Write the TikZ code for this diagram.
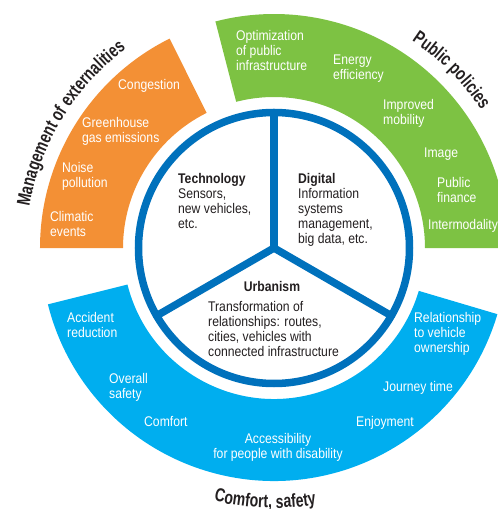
\documentclass[tikz,border=0pt]{standalone}
\usepackage{fontspec}
\setmainfont{Liberation Sans}[FakeStretch=0.87]
\newfontfamily\titlefont{Liberation Sans}[FakeStretch=0.75]
\usetikzlibrary{decorations.text}
\definecolor{orangeC}{HTML}{F39035}
\definecolor{greenC}{HTML}{7DC243}
\definecolor{cyanC}{HTML}{00AEEF}
\definecolor{ringC}{HTML}{0071BC}
\definecolor{darkC}{HTML}{231F20}
\begin{document}
\begin{tikzpicture}[x=1pt,y=1pt,
  seglabel/.style={text=white, font=\fontsize{14}{15}\selectfont, inner sep=0pt, align=left, anchor=west},
  innertext/.style={text=darkC, font=\fontsize{14}{15}\selectfont, inner sep=0pt, align=left},
  headtext/.style={text=darkC, font=\fontsize{14}{15}\selectfont\bfseries, inner sep=0pt},
  spoke/.style={draw=ringC, line width=7.5pt, line cap=round},
  titlepath/.style={decorate, decoration={text along path, text align=center, text color=darkC, text={|\titlefont\fontsize{18.8}{19}\selectfont\bfseries|#1}}}
]
\clip (-274,-261) rectangle (224,248);
% outer segments
\fill[orangeC] (116.5:151pt) arc[start angle=116.5, end angle=180, radius=151pt] -- (180:234pt) arc[start angle=180, end angle=116.5, radius=234pt] -- cycle;
\fill[greenC] (0:151pt) arc[start angle=0, end angle=104.5, radius=151pt] -- (104.5:234pt) arc[start angle=104.5, end angle=0, radius=234pt] -- cycle;
\fill[cyanC] (194:151pt) arc[start angle=194, end angle=343.5, radius=151pt] -- (343.5:233pt) arc[start angle=343.5, end angle=194, radius=233pt] -- cycle;
% inner circle
\draw[ringC, line width=7.5pt, fill=white] (0,0) circle[radius=135.5pt];
\coordinate (c) at (0,0);
\coordinate (s1) at (90:135.5pt);
\coordinate (s2) at (210:135.5pt);
\coordinate (s3) at (330:135.5pt);
\draw[spoke] (c) -- (s1);
\draw[spoke] (c) -- (s2);
\draw[spoke] (c) -- (s3);
% curved titles
\path[titlepath={Management of externalities}] (176:248pt) arc[start angle=176, end angle=121, radius=248pt];
\path[titlepath={Public policies}] (60:249pt) arc[start angle=60, end angle=30, radius=249pt];
\path[titlepath={Comfort{,} safety}] (240:260pt) arc[start angle=240, end angle=296, radius=260pt];
% orange labels
\node[seglabel] (o1) at (-156,162) {Congestion};
\node[seglabel] (o2) at (-192,117) {Greenhouse\\gas emissions};
\node[seglabel] (o3) at (-212,72) {Noise\\pollution};
\node[seglabel] (o4) at (-224,24) {Climatic\\events};
% green labels
\node[seglabel] (g1) at (-38,198) {Optimization\\of public\\infrastructure};
\node[seglabel] (g2) at (59,179) {Energy\\efficiency};
\node[seglabel] (g3) at (109,135) {Improved\\mobility};
\node[seglabel] (g4) at (150,94) {Image};
\node[seglabel] (g5) at (163,58) {Public\\finance};
\node[seglabel] (g6) at (154,22) {Intermodality};
% blue labels
\node[seglabel] (b1) at (-207,-77) {Accident\\reduction};
\node[seglabel] (b2) at (-165,-139) {Overall\\safety};
\node[seglabel] (b3) at (-130,-174) {Comfort};
\node[seglabel, anchor=center, align=center] (b4) at (4,-199) {Accessibility\\for people with disability};
\node[seglabel] (b5) at (82,-175) {Enjoyment};
\node[seglabel] (b6) at (109,-140) {Journey time};
\node[seglabel] (b7) at (140,-86) {Relationship\\to vehicle\\ownership};
% inner texts
\node[innertext, anchor=north west] (t1) at (-96,75) {\textbf{Technology}\\Sensors,\\new vehicles,\\etc.};
\node[innertext, anchor=north west] (t2) at (24,75) {\textbf{Digital}\\Information\\systems\\management,\\big data, etc.};
\node[headtext] (t3) at (-2,-38) {Urbanism};
\node[innertext, anchor=north west] (t4) at (-66,-53) {Transformation of\\relationships: routes,\\cities, vehicles with\\connected infrastructure};
\end{tikzpicture}
\end{document}
